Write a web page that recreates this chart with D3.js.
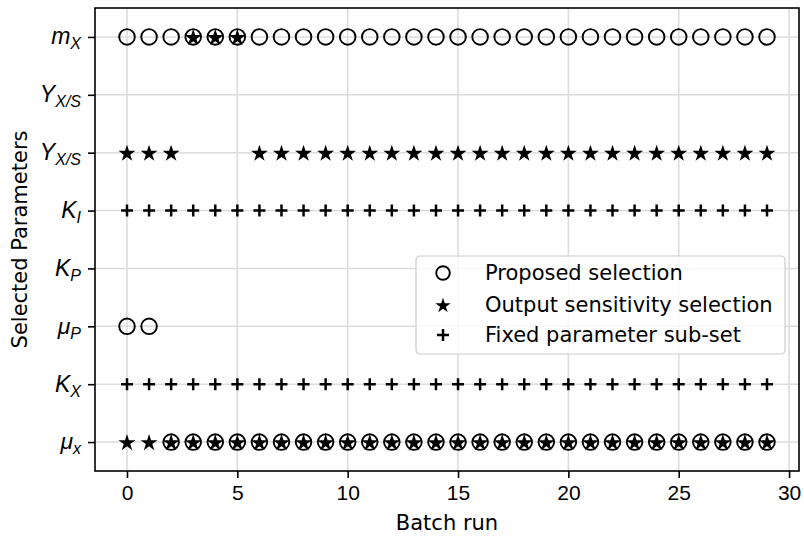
<!DOCTYPE html>
<html>
<head>
<meta charset="utf-8">
<script src="https://cdn.jsdelivr.net/npm/d3@7"></script>
<style>
  body { margin: 0; background: #fff; }
  svg { font-family: "DejaVu Sans", sans-serif; }
</style>
</head>
<body>
<svg id="chart"></svg>
<script>
const margin = { top: 8, right: 5, bottom: 69, left: 95 };
const width = 804 - margin.left - margin.right;
const height = 540 - margin.top - margin.bottom;

// parameter rows, top to bottom
const paramBase = ["m", "Y", "Y", "K", "K", "\u03bc", "K", "\u03bc"];
const paramSub = ["X", "X/S", "X/S", "I", "P", "P", "X", "x"];

const xTicks = [0, 5, 10, 15, 20, 25, 30];

// batch runs in which each parameter was chosen
const proposedMX = [0, 1, 2, 3, 4, 5, 6, 7, 8, 9, 10, 11, 12, 13, 14, 15, 16, 17, 18, 19, 20, 21, 22, 23, 24, 25, 26, 27, 28, 29];
const proposedMuP = [0, 1];
const proposedMux = [2, 3, 4, 5, 6, 7, 8, 9, 10, 11, 12, 13, 14, 15, 16, 17, 18, 19, 20, 21, 22, 23, 24, 25, 26, 27, 28, 29];

const sensitivityMX = [3, 4, 5];
const sensitivityYXS = [0, 1, 2, 6, 7, 8, 9, 10, 11, 12, 13, 14, 15, 16, 17, 18, 19, 20, 21, 22, 23, 24, 25, 26, 27, 28, 29];
const sensitivityMux = [0, 1, 2, 3, 4, 5, 6, 7, 8, 9, 10, 11, 12, 13, 14, 15, 16, 17, 18, 19, 20, 21, 22, 23, 24, 25, 26, 27, 28, 29];

const fixedKI = [0, 1, 2, 3, 4, 5, 6, 7, 8, 9, 10, 11, 12, 13, 14, 15, 16, 17, 18, 19, 20, 21, 22, 23, 24, 25, 26, 27, 28, 29];
const fixedKX = [0, 1, 2, 3, 4, 5, 6, 7, 8, 9, 10, 11, 12, 13, 14, 15, 16, 17, 18, 19, 20, 21, 22, 23, 24, 25, 26, 27, 28, 29];

const legendLabels = ["Proposed selection", "Output sensitivity selection", "Fixed parameter sub-set"];

function toPoints(runs, row) {
    return runs.map(r => ({ run: r, row: row }));
}

const proposed = [].concat(toPoints(proposedMX, 0), toPoints(proposedMuP, 5), toPoints(proposedMux, 7));
const sensitivity = [].concat(toPoints(sensitivityMX, 0), toPoints(sensitivityYXS, 2), toPoints(sensitivityMux, 7));
const fixed = [].concat(toPoints(fixedKI, 3), toPoints(fixedKX, 6));

const svg = d3.select("#chart")
    .attr("width", width + margin.left + margin.right)
    .attr("height", height + margin.top + margin.bottom)
    .append("g")
    .attr("transform", "translate(" + margin.left + "," + margin.top + ")");

const xScale = d3.scaleLinear().domain([-1.45, 30.45]).range([0, width]);
const yScale = d3.scaleLinear().domain([-0.5, 7.5]).range([0, height]);

function starPath(R) {
    const r = R * 0.381966;
    let pts = [];
    for (let i = 0; i < 10; i++) {
        const a = -Math.PI / 2 + i * Math.PI / 5;
        const rad = i % 2 === 0 ? R : r;
        pts.push([rad * Math.cos(a), rad * Math.sin(a)]);
    }
    return "M" + pts.map(p => p[0].toFixed(2) + "," + p[1].toFixed(2)).join("L") + "Z";
}

function plusPath(h) {
    return "M" + (-h) + ",0H" + h + "M0," + (-h) + "V" + h;
}

// grid
svg.append("g")
    .selectAll("line.vgrid")
    .data(xTicks)
    .enter().append("line")
    .attr("x1", d => xScale(d)).attr("x2", d => xScale(d))
    .attr("y1", 0).attr("y2", height)
    .attr("stroke", "#dcdcdc")
    .attr("stroke-width", 1.6);

svg.append("g")
    .selectAll("line.hgrid")
    .data(paramBase.map((d, i) => i))
    .enter().append("line")
    .attr("x1", 0).attr("x2", width)
    .attr("y1", d => yScale(d)).attr("y2", d => yScale(d))
    .attr("stroke", "#dcdcdc")
    .attr("stroke-width", 1.6);

// axes
const xAxis = d3.axisBottom(xScale).tickValues(xTicks).tickSize(7).tickPadding(7);
const gx = svg.append("g")
    .attr("transform", "translate(0," + height + ")")
    .call(xAxis);
gx.select(".domain").remove();
gx.selectAll(".tick line").attr("stroke-width", 1.6);
gx.selectAll("text").attr("font-size", "21px").attr("fill", "#000");

const yAxis = d3.axisLeft(yScale).tickValues(paramBase.map((d, i) => i)).tickSize(7).tickPadding(7).tickFormat("");
const gy = svg.append("g").call(yAxis);
gy.select(".domain").remove();
gy.selectAll(".tick line").attr("stroke-width", 1.6);
gy.selectAll(".tick text").each(function(d) {
    const t = d3.select(this)
        .attr("font-size", "23px")
        .attr("font-style", "italic")
        .attr("fill", "#000")
        .attr("dy", "0.3em");
    t.append("tspan").text(paramBase[d]);
    t.append("tspan").attr("font-size", "16px").attr("dy", "5").text(paramSub[d]);
});

// frame
svg.append("rect")
    .attr("width", width).attr("height", height)
    .attr("fill", "none")
    .attr("stroke", "#000")
    .attr("stroke-width", 1.6);

// markers
svg.append("g").selectAll("circle")
    .data(proposed)
    .enter().append("circle")
    .attr("cx", d => xScale(d.run))
    .attr("cy", d => yScale(d.row))
    .attr("r", 7.8)
    .attr("fill", "none")
    .attr("stroke", "#000")
    .attr("stroke-width", 1.9);

svg.append("g").selectAll("path")
    .data(sensitivity)
    .enter().append("path")
    .attr("d", starPath(8.9))
    .attr("transform", d => "translate(" + xScale(d.run) + "," + (yScale(d.row) + 0.9) + ")")
    .attr("fill", "#000");

svg.append("g").selectAll("path")
    .data(fixed)
    .enter().append("path")
    .attr("d", plusPath(6))
    .attr("transform", d => "translate(" + xScale(d.run) + "," + yScale(d.row) + ")")
    .attr("stroke", "#000")
    .attr("stroke-width", 2.5)
    .attr("fill", "none");

// axis labels
svg.append("text")
    .attr("text-anchor", "middle")
    .attr("x", xScale(14.5))
    .attr("y", height + 59)
    .attr("font-size", "21px")
    .text("Batch run");

svg.append("text")
    .attr("text-anchor", "middle")
    .attr("transform", "translate(-68," + (height / 2) + ") rotate(-90)")
    .attr("font-size", "21px")
    .text("Selected Parameters");

// legend
const legend = svg.append("g").attr("transform", "translate(" + (416 - margin.left) + "," + (256 - margin.top) + ")");
legend.append("rect")
    .attr("width", 369).attr("height", 98)
    .attr("rx", 4)
    .attr("fill", "#fff").attr("fill-opacity", 0.8)
    .attr("stroke", "#cccccc").attr("stroke-width", 1.2);

const rows = [17, 49, 79];
legend.append("circle")
    .attr("cx", 27).attr("cy", rows[0]).attr("r", 6.8)
    .attr("fill", "none").attr("stroke", "#000").attr("stroke-width", 1.9);
legend.append("path")
    .attr("d", starPath(8))
    .attr("transform", "translate(27," + (rows[1] + 0.8) + ")")
    .attr("fill", "#000");
legend.append("path")
    .attr("d", plusPath(6))
    .attr("transform", "translate(27," + rows[2] + ")")
    .attr("stroke", "#000").attr("stroke-width", 2.5);

legend.selectAll("text.leg")
    .data(legendLabels)
    .enter().append("text")
    .attr("x", 69)
    .attr("y", (d, i) => rows[i])
    .attr("dy", "0.35em")
    .attr("font-size", "21px")
    .text(d => d);
</script>
</body>
</html>
